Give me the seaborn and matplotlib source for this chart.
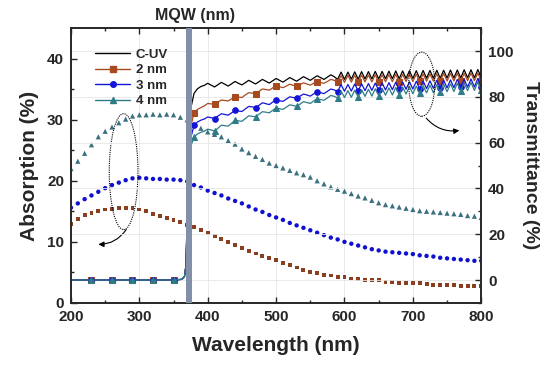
import numpy as np
import matplotlib
matplotlib.use("Agg")
import matplotlib.pyplot as plt
from matplotlib.lines import Line2D
from matplotlib.patches import Ellipse
import seaborn as sns

# ---- absorption (left axis), 10 nm step ----
abs_wl = list(range(200, 801, 10))
abs_2nm = [13.0, 13.8, 14.4, 14.8, 15.1, 15.3, 15.4, 15.5, 15.6, 15.5, 15.3, 15.0,
           14.6, 14.2, 13.9, 13.6, 13.2, 12.8, 12.4, 11.9, 11.4, 10.9, 10.4, 10.0,
           9.5, 9.0, 8.5, 8.1, 7.7, 7.3, 7.0, 6.6, 6.2, 5.8, 5.4, 5.1, 4.9, 4.6,
           4.5, 4.3, 4.2, 4.0, 3.9, 3.8, 3.7, 3.7, 3.5, 3.4, 3.3, 3.3, 3.2, 3.2,
           3.1, 3.0, 3.0, 2.9, 2.9, 2.8, 2.8, 2.8, 2.7]
abs_3nm = [15.6, 16.3, 17.0, 17.6, 18.2, 18.8, 19.3, 19.7, 20.1, 20.4, 20.5, 20.4,
           20.3, 20.3, 20.2, 20.2, 20.1, 19.9, 19.3, 18.9, 18.4, 18.0, 17.6, 17.1,
           16.7, 16.3, 15.8, 15.3, 14.9, 14.4, 14.0, 13.6, 13.1, 12.7, 12.3, 11.9,
           11.5, 11.1, 10.7, 10.4, 10.0, 9.7, 9.4, 9.1, 8.8, 8.6, 8.4, 8.3, 8.2,
           8.1, 8.0, 7.8, 7.7, 7.6, 7.4, 7.3, 7.2, 7.1, 7.0, 6.9, 6.9]
abs_4nm = [22.0, 23.2, 24.5, 25.9, 27.2, 28.1, 28.8, 29.5, 30.1, 30.6, 30.8, 30.8,
           30.9, 30.8, 30.9, 30.8, 30.4, 30.0, 29.2, 28.6, 28.0, 27.6, 27.2, 26.6,
           26.0, 25.2, 24.6, 24.0, 23.5, 22.9, 22.5, 22.1, 21.7, 21.3, 21.0, 20.6,
           20.0, 19.5, 19.0, 18.6, 18.3, 17.9, 17.5, 17.2, 16.8, 16.4, 16.1, 15.9,
           15.7, 15.5, 15.3, 15.1, 15.0, 14.9, 14.8, 14.7, 14.6, 14.5, 14.3, 14.2,
           14.0]

# ---- transmittance (right axis) ----
trans_wl = [200, 230, 260, 290, 320, 350, 362, 366, 368, 372, 376] + list(range(380, 801, 5))
trans_cuv = [0, 0, 0, 0, 0, 0, 0.3, 1.5, 6, 50, 76,
             81.5, 83.5, 84.5, 85.0,
             85.9, 85.1, 84.3, 85.3, 86.3, 85.5, 84.7, 85.7, 86.7, 85.9, 85.2, 86.2,
             87.2, 86.4, 85.6, 86.6, 87.6, 86.8, 86.0, 87.0, 88.0, 87.2, 86.4, 87.4,
             88.4, 87.6, 86.8, 87.8, 88.8, 88.0, 87.2, 88.2, 89.2, 88.4, 87.6, 88.6,
             89.6, 88.8,
             87.6, 90.8, 87.6, 90.8, 87.7, 90.9, 87.7, 91.0, 87.8, 91.0, 87.8, 91.1,
             87.8, 91.1, 87.9, 91.2, 87.9, 91.3, 87.9, 91.3, 88.0, 91.4, 88.0, 91.4,
             88.0, 91.5, 88.1, 91.5, 88.1, 91.6, 88.1, 91.6, 88.2, 91.7, 88.2, 91.7,
             88.2, 91.8, 88.3, 91.8, 88.3, 91.9, 88.4]
trans_2nm = [0, 0, 0, 0, 0, 0, 0.3, 1.5, 6, 45, 68,
             73.0, 74.5, 75.3, 76.0,
             77.1, 76.9, 76.7, 77.7, 78.6, 78.4, 78.2, 79.1, 80.1, 79.9, 79.7, 80.8,
             81.8, 81.6, 81.4, 82.4, 83.4, 83.2, 82.9, 83.9, 84.9, 84.4, 84.0, 84.7,
             85.5, 85.0, 84.6, 85.3, 86.1, 85.6, 85.1, 85.9, 86.6, 86.2, 85.9, 86.7,
             87.6, 87.2,
             86.3, 89.3, 86.3, 89.4, 86.4, 89.4, 86.4, 89.5, 86.5, 89.5, 86.5, 89.6,
             86.5, 89.6, 86.6, 89.7, 86.6, 89.8, 86.6, 89.8, 86.7, 89.9, 86.7, 89.9,
             86.7, 90.0, 86.8, 90.0, 86.8, 90.1, 86.8, 90.2, 86.9, 90.2, 86.9, 90.3,
             86.9, 90.3, 87.0, 90.4, 87.0, 90.4, 87.0]
trans_3nm = [0, 0, 0, 0, 0, 0, 0.3, 1.5, 6, 42, 63,
             67.5, 69.0, 69.8, 70.3,
             71.2, 70.9, 70.5, 71.6, 72.6, 72.3, 72.0, 73.0, 74.1, 73.8, 73.6, 74.7,
             75.8, 75.6, 75.3, 76.3, 77.4, 77.0, 76.6, 77.7, 78.7, 78.3, 78.0, 79.0,
             80.0, 79.7, 79.3, 80.3, 81.2, 80.8, 80.3, 81.3, 82.2, 81.8, 81.4, 82.4,
             83.4, 83.0,
             82.3, 85.3, 82.4, 85.4, 82.5, 85.6, 82.6, 85.7, 82.7, 85.8, 82.8, 86.0,
             82.9, 86.1, 83.0, 86.2, 83.1, 86.4, 83.2, 86.5, 83.3, 86.6, 83.4, 86.8,
             83.5, 86.9, 83.6, 87.0, 83.7, 87.2, 83.8, 87.3, 83.9, 87.4, 84.0, 87.6,
             84.1, 87.7, 84.2, 87.8, 84.3, 88.0, 84.3]
trans_4nm = [0, 0, 0, 0, 0, 0, 0.3, 1.5, 6, 40, 59,
             62.5, 63.8, 64.5, 65.0,
             65.9, 65.5, 65.1, 66.3, 67.6, 67.4, 67.2, 68.5, 69.7, 69.5, 69.3, 70.5,
             71.7, 71.5, 71.3, 72.4, 73.5, 73.3, 73.0, 74.1, 75.2, 74.8, 74.5, 75.5,
             76.5, 76.2, 75.8, 76.8, 77.9, 77.5, 77.1, 78.2, 79.2, 78.8, 78.5, 79.5,
             80.6, 80.2,
             79.5, 82.5, 79.7, 82.7, 79.8, 82.9, 80.0, 83.1, 80.2, 83.3, 80.3, 83.5,
             80.5, 83.7, 80.7, 83.9, 80.8, 84.1, 81.0, 84.3, 81.2, 84.5, 81.3, 84.7,
             81.5, 84.9, 81.7, 85.1, 81.8, 85.3, 82.0, 85.5, 82.2, 85.7, 82.3, 85.9,
             82.5, 86.1, 82.7, 86.3, 82.8, 86.5, 83.0]
marker_wl = [230, 260, 290, 320, 350] + list(range(380, 801, 30))

labels = ["C-UV", "2 nm", "3 nm", "4 nm"]
colors = ["black", "#a84a20", "#1414d8", "#2e7c88"]
abs_colors = ["#8a4020", "#1010d0", "#3a7080"]
markers = [None, "s", "o", "^"]

sns.set_style("ticks")
plt.rcParams["font.family"] = ["Liberation Sans", "DejaVu Sans"]
plt.rcParams["font.weight"] = "bold"

fig, ax = plt.subplots(figsize=(5.5, 3.65), dpi=100)
fig.subplots_adjust(left=0.129, right=0.875, bottom=0.170, top=0.923)
ax2 = ax.twinx()

# absorption dots
for vals, c, m, s in zip([abs_2nm, abs_3nm, abs_4nm], abs_colors, ["s", "o", "^"], [8, 10, 14]):
    sns.scatterplot(x=abs_wl, y=vals, ax=ax, marker=m, s=s, color=c,
                    edgecolor="none", legend=False, zorder=3)

# transmittance lines
mark_idx = [i for i, w in enumerate(trans_wl) if w in marker_wl]
for vals, c, m in zip([trans_cuv, trans_2nm, trans_3nm, trans_4nm], colors, markers):
    if m is None:
        sns.lineplot(x=trans_wl, y=vals, ax=ax2, color=c, lw=0.9, legend=False)
    else:
        sns.lineplot(x=trans_wl, y=vals, ax=ax2, color=c, lw=0.9, marker=m,
                     markevery=mark_idx, ms=4.0, mec=c, mfc=c, legend=False)

ax2.axvspan(368, 377, color="#8190a8", lw=0, zorder=5)
ax.annotate("MQW (nm)", xy=(381, 1.045), xycoords=("data", "axes fraction"),
            ha="center", va="center", fontsize=11.5, fontweight="bold")

# dotted ellipses + arrows
ax.add_patch(Ellipse((277, 21.5), width=42, height=19, fill=False,
                     ls=(0, (1, 1)), lw=0.8, color="k", zorder=4))
ax.annotate("", xy=(236, 9.6), xytext=(283, 12.4),
            arrowprops=dict(arrowstyle="-|>", color="k", lw=0.8, mutation_scale=8,
                            connectionstyle="arc3,rad=-0.3"))
ax2.add_patch(Ellipse((713, 85.5), width=38, height=28, fill=False,
                      ls=(0, (1, 1)), lw=0.8, color="k", zorder=6))
ax2.annotate("", xy=(772, 65.5), xytext=(717, 71.6),
             arrowprops=dict(arrowstyle="-|>", color="k", lw=0.8, mutation_scale=8,
                             connectionstyle="arc3,rad=0.3"))

ax.set_xlim(200, 800)
ax.set_ylim(0, 45)
ax2.set_ylim(-10, 110)
ax.set_xticks(range(200, 801, 100))
ax.set_xticks(range(250, 800, 100), minor=True)
ax.set_yticks(range(0, 41, 10))
ax.set_yticks(range(5, 45, 10), minor=True)
ax2.set_yticks(range(0, 101, 20))
ax2.set_yticks(range(-10, 111, 20), minor=True)

ax.grid(axis="x", color="#e6e6e6", lw=0.6)
ax2.grid(axis="y", color="#e6e6e6", lw=0.6)
ax.set_axisbelow(True)

for a in (ax, ax2):
    a.tick_params(which="both", direction="in", width=1, labelsize=11)
    a.tick_params(which="major", length=4)
    a.tick_params(which="minor", length=2)
    for sp in a.spines.values():
        sp.set_linewidth(1.2)
ax.tick_params(which="both", top=True, pad=5)
ax2.tick_params(which="both", pad=5)
for t in ax.get_xticklabels() + ax.get_yticklabels() + ax2.get_yticklabels():
    t.set_fontweight("bold")

ax.set_xlabel("Wavelength (nm)", fontsize=15, fontweight="bold", labelpad=9)
ax.set_ylabel("Absorption (%)", fontsize=15, fontweight="bold", labelpad=6)
ax2.set_ylabel("Transmittance (%)", fontsize=14, fontweight="bold", rotation=270, labelpad=18)

handles = [Line2D([], [], color=c, lw=1, marker=m, ms=4.0, mfc=c, mec=c)
           for c, m in zip(colors, markers)]
leg = ax2.legend(handles, labels, loc="upper left", bbox_to_anchor=(0.045, 0.945),
                 frameon=False, handlelength=2.7, labelspacing=0.25, handletextpad=0.4,
                 prop={"weight": "bold", "size": 9.5}, borderaxespad=0)
leg.set_zorder(10)

fig.savefig("out.png", dpi=100)
